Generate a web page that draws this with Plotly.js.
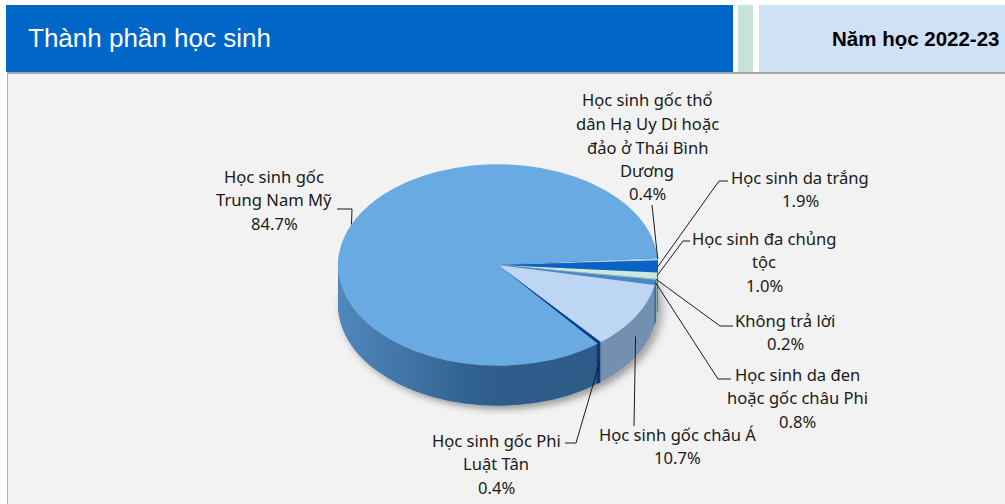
<!DOCTYPE html>
<html><head><meta charset="utf-8">
<script src="https://cdn.plot.ly/plotly-3.0.1.min.js"></script>
<style>html,body{margin:0;padding:0;background:#fff;} #chart{width:1005px;height:504px;}</style>
</head><body><div id="chart"></div>
<script>
// ---- data ----
const categories = [
  "Học sinh gốc thổ dân Hạ Uy Di hoặc đảo ở Thái Bình Dương",
  "Học sinh da trắng",
  "Học sinh đa chủng tộc",
  "Không trả lời",
  "Học sinh da đen hoặc gốc châu Phi",
  "Học sinh gốc châu Á",
  "Học sinh gốc Phi Luật Tân",
  "Học sinh gốc Trung Nam Mỹ"
];
const values = [0.4, 1.9, 1.0, 0.2, 0.8, 10.7, 0.4, 84.7];
const labelLines = [
  ["Học sinh gốc thổ", "dân Hạ Uy Di hoặc", "đảo ở Thái Bình", "Dương"],
  ["Học sinh da trắng"],
  ["Học sinh đa chủng", "tộc"],
  ["Không trả lời"],
  ["Học sinh da đen", "hoặc gốc châu Phi"],
  ["Học sinh gốc châu Á"],
  ["Học sinh gốc Phi", "Luật Tân"],
  ["Học sinh gốc", "Trung Nam Mỹ"]
];
const chartTitle = "Thành phần học sinh";
const yearLabel = "Năm học 2022-23";

// ---- styles ----
const topColors  = ['#a6cff1','#0a62c4','#cfe8dc','#8fb3d6','#4a86c5','#bcd6f3','#0b3f8a','#6aaae2'];
const sideColors = ['#6f93b8','#0a4a90','#9fb8ae','#6d8aa8','#3a6a9c','#7490b0','#0b3170','#36689a'];

// ---- layout geometry (pixels) ----
const W = 1005, H = 504;
const CX = 498, CY = 265, R = 160, K = 0.63, DEPTH = 40, ROT = 86, LINE_H = 23.5, LAYERS = 20;
// label placement: text centre x, first-line y, leader end, leader elbow
const labelPos = [
  {cx: 647, y0: 100, end: [652, 205], elbow: [652, 205]},
  {cx: 800, y0: 177, end: [728, 181], elbow: [719, 181]},
  {cx: 764, y0: 238, end: [690, 241], elbow: [683, 241]},
  {cx: 785, y0: 320, end: [733, 326], elbow: [720, 326]},
  {cx: 797, y0: 374, end: [731, 379], elbow: [718, 379]},
  {cx: 677, y0: 434, end: [634, 426], elbow: [634, 426]},
  {cx: 496, y0: 440, end: [565, 443], elbow: [576, 443]},
  {cx: 274, y0: 176, end: [337, 209], elbow: [352, 209]}
];

const px = x => x / W;
const py = y => 1 - y / H;

function domainFor(cy) {
  return {x: [px(CX - R), px(CX + R)], y: [(H - cy - R) / H, (H - cy + R) / H]};
}
const pieBase = {
  type: 'pie', labels: categories, values: values, sort: false,
  direction: 'clockwise', rotation: ROT, textinfo: 'none', hoverinfo: 'skip',
  showlegend: false
};
// stacked copies form the side wall, then the top face
const traces = [];
const centers = [];
for (let j = LAYERS; j >= 1; j--) {
  const cy = CY + DEPTH * j / LAYERS;
  centers.push(cy);
  traces.push(Object.assign({}, pieBase, {domain: domainFor(cy), marker: {colors: sideColors, line: {width: 0}}}));
}
centers.push(CY);
traces.push(Object.assign({}, pieBase, {domain: domainFor(CY), marker: {colors: topColors, line: {width: 0}}}));

// anchors computed from the data
const total = values.reduce((a, b) => a + b, 0);
let cum = 0;
const anchors = values.map(v => {
  const a0 = ROT + 360 * cum / total;
  cum += v;
  const a1 = ROT + 360 * cum / total;
  const m = (a0 + a1) / 2 * Math.PI / 180;
  let ax = CX + R * Math.sin(m);
  let ay = CY - K * R * Math.cos(m);
  if (Math.cos(m) < -0.3) ay += DEPTH * 0.5;
  return [ax, ay];
});

const shapes = [
  {type: 'rect', xref: 'paper', yref: 'paper', layer: 'below', x0: px(7), x1: 1, y0: 0, y1: py(73), fillcolor: '#f2f2f2', line: {width: 0}},
  {type: 'line', xref: 'paper', yref: 'paper', layer: 'below', x0: px(7), x1: 1, y0: py(73), y1: py(73), line: {color: '#a6a6a6', width: 2}},
  {type: 'line', xref: 'paper', yref: 'paper', layer: 'below', x0: px(7.5), x1: px(7.5), y0: 0, y1: py(73), line: {color: '#b0b0b0', width: 1}},
  {type: 'rect', xref: 'paper', yref: 'paper', layer: 'below', x0: px(6), x1: px(733), y0: py(72), y1: py(5), fillcolor: '#0066c8', line: {width: 0}},
  {type: 'rect', xref: 'paper', yref: 'paper', layer: 'below', x0: px(738), x1: px(753), y0: py(72), y1: py(5), fillcolor: '#c6e4d8', line: {width: 0}},
  {type: 'rect', xref: 'paper', yref: 'paper', layer: 'below', x0: px(759), x1: 1, y0: py(72), y1: py(5), fillcolor: '#cfe1f5', line: {width: 0}}
];
labelPos.forEach((p, i) => {
  const a = anchors[i];
  shapes.push({
    type: 'path', xref: 'paper', yref: 'paper', layer: 'above',
    path: `M ${px(p.end[0])},${py(p.end[1])} L ${px(p.elbow[0])},${py(p.elbow[1])} L ${px(a[0])},${py(a[1])}`,
    line: {color: '#1a1a1a', width: 1}
  });
});

const annotations = [
  {text: chartTitle, xref: 'paper', yref: 'paper', x: px(26), y: py(38), xanchor: 'left', yanchor: 'middle',
   showarrow: false, font: {family: 'Liberation Sans, Arial, sans-serif', size: 26, color: '#ffffff'}},
  {text: '<b>' + yearLabel + '</b>', xref: 'paper', yref: 'paper', x: px(1002), y: py(39), xanchor: 'right', yanchor: 'middle',
   showarrow: false, font: {family: 'Liberation Sans, Arial, sans-serif', size: 20.5, color: '#000000'}}
];
labelPos.forEach((p, i) => {
  const lines = labelLines[i].concat([values[i].toFixed(1) + '%']);
  lines.forEach((t, j) => {
    annotations.push({
      text: t, xref: 'paper', yref: 'paper', x: px(p.cx), y: py(p.y0 + j * LINE_H),
      xanchor: 'center', yanchor: 'middle', showarrow: false,
      font: {family: 'Noto Sans, sans-serif', size: 16.6, color: '#1a1a1a'}
    });
  });
});

const layout = {
  width: W, height: H, margin: {l: 0, r: 0, t: 0, b: 0},
  paper_bgcolor: '#ffffff', plot_bgcolor: '#ffffff',
  shapes: shapes, annotations: annotations, showlegend: false
};

Plotly.newPlot('chart', traces, layout, {staticPlot: true, displayModeBar: false}).then(gd => {
  const svg = gd.querySelector('svg.main-svg');
  const ns = 'http://www.w3.org/2000/svg';
  let defs = svg.querySelector('defs');
  if (!defs) { defs = document.createElementNS(ns, 'defs'); svg.insertBefore(defs, svg.firstChild); }
  defs.insertAdjacentHTML('beforeend',
    '<filter id="pieShadow" x="-20%" y="-20%" width="140%" height="160%">' +
    '<feDropShadow dx="4" dy="6" stdDeviation="5" flood-color="#000" flood-opacity="0.35"/></filter>' +
    '<linearGradient id="sideGrad" x1="0" y1="0" x2="1" y2="0">' +
    '<stop offset="0" stop-color="#5088bc"/><stop offset="0.45" stop-color="#2f5e8c"/>' +
    '<stop offset="1" stop-color="#2c5a87"/></linearGradient>');
  const groups = gd.querySelectorAll('.pielayer .trace');
  groups.forEach((g, i) => {
    const cy = centers[i];
    const ex = g.getAttribute('transform') || '';
    g.setAttribute('transform', `translate(0,${cy}) scale(1,${K}) translate(0,${-cy}) ${ex}`);
    if (i < groups.length - 1) {
      const slices = g.querySelectorAll('path.surface');
      const last = slices[slices.length - 1];
      if (last) last.style.fill = 'url(#sideGrad)';
    }
  });
  if (groups[0]) groups[0].setAttribute('filter', 'url(#pieShadow)');
});
</script>
</body></html>
